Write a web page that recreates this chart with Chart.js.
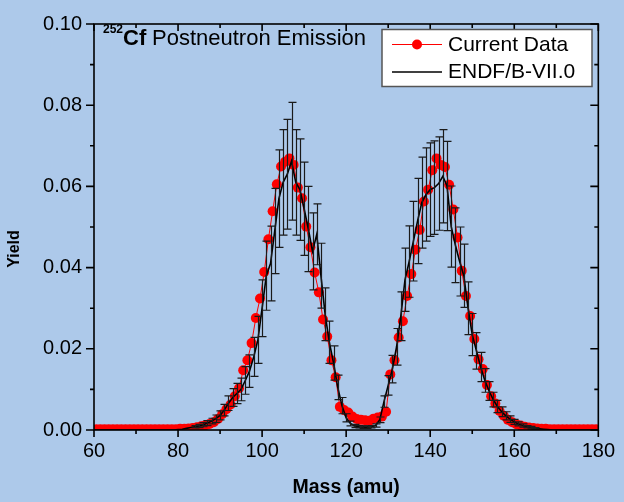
<!DOCTYPE html>
<html>
<head>
<meta charset="utf-8">
<script src="https://cdn.jsdelivr.net/npm/chart.js@4.4.1/dist/chart.umd.min.js"></script>
<style>
  html, body { margin: 0; padding: 0; background: #adc9ea; }
  #wrap { width: 624px; height: 502px; }
</style>
</head>
<body>
<div id="wrap"><canvas id="yieldChart" width="624" height="502"></canvas></div>
<script>
const FONT = '"Liberation Sans", Arial, sans-serif';
const BG = "#adc9ea";

// current data (red dots)
const currentMass = [
  60.5, 61.5, 62.5, 63.5, 64.5, 65.5, 66.5, 67.5, 68.5, 69.5,
  70.5, 71.5, 72.5, 73.5, 74.5, 75.5, 76.5, 77.5, 78.5, 79.5,
  80.5, 81.5, 82.5, 83.5, 84.5, 85.5, 86.5, 87.5, 88.5, 89.5,
  90.5, 91.5, 92.5, 93.5, 94.5, 95.5, 96.5, 97.5, 98.5, 99.5,
  100.5, 101.5, 102.5, 103.5, 104.5, 105.5, 106.5, 107.5, 108.5, 109.5,
  110.5, 111.5, 112.5, 113.5, 114.5, 115.5, 116.5, 117.5, 118.5, 119.5,
  120.5, 121.5, 122.5, 123.5, 124.5, 125.5, 126.5, 127.5, 128.5, 129.5,
  130.5, 131.5, 132.5, 133.5, 134.5, 135.5, 136.5, 137.5, 138.5, 139.5,
  140.5, 141.5, 142.5, 143.5, 144.5, 145.5, 146.5, 147.5, 148.5, 149.5,
  150.5, 151.5, 152.5, 153.5, 154.5, 155.5, 156.5, 157.5, 158.5, 159.5,
  160.5, 161.5, 162.5, 163.5, 164.5, 165.5, 166.5, 167.5, 168.5, 169.5,
  170.5, 171.5, 172.5, 173.5, 174.5, 175.5, 176.5, 177.5, 178.5, 179.5,
];
const currentYield = [
  0.0002, 0.0002, 0.0002, 0.0002, 0.0002, 0.0002, 0.0002, 0.0002, 0.0002, 0.0002,
  0.0002, 0.0002, 0.0002, 0.0002, 0.0002, 0.0002, 0.0002, 0.0002, 0.0002, 0.0002,
  0.0003, 0.0003, 0.0004, 0.0005, 0.0007, 0.0009, 0.0012, 0.0015, 0.0019, 0.0027,
  0.0039, 0.0051, 0.0063, 0.0083, 0.0103, 0.0147, 0.0172, 0.0214, 0.0276, 0.0324,
  0.0389, 0.0470, 0.0539, 0.0605, 0.0649, 0.0661, 0.0669, 0.0653, 0.0597, 0.0571,
  0.0501, 0.0450, 0.0388, 0.0339, 0.0272, 0.0230, 0.0172, 0.0130, 0.0057, 0.0049,
  0.0043, 0.0033, 0.0027, 0.0025, 0.0024, 0.0023, 0.0028, 0.0031, 0.0033, 0.0045,
  0.0137, 0.0172, 0.0228, 0.0268, 0.0330, 0.0384, 0.0444, 0.0493, 0.0563, 0.0592,
  0.0640, 0.0669, 0.0653, 0.0648, 0.0604, 0.0543, 0.0474, 0.0392, 0.0330, 0.0281,
  0.0224, 0.0174, 0.0150, 0.0111, 0.0083, 0.0065, 0.0047, 0.0035, 0.0025, 0.0019,
  0.0014, 0.0011, 0.0008, 0.0006, 0.0005, 0.0004, 0.0003, 0.0003, 0.0002, 0.0002,
  0.0002, 0.0002, 0.0002, 0.0002, 0.0002, 0.0002, 0.0002, 0.0002, 0.0002, 0.0002,
];

// ENDF/B-VII.0 (black line) with its error bars
const endfMass = [
  60, 61, 62, 63, 64, 65, 66, 67, 68, 69,
  70, 71, 72, 73, 74, 75, 76, 77, 78, 79,
  80, 81, 82, 83, 84, 85, 86, 87, 88, 89,
  90, 91, 92, 93, 94, 95, 96, 97, 98, 99,
  100, 101, 102, 103, 104, 105, 106, 107, 108, 109,
  110, 111, 112, 113, 114, 115, 116, 117, 118, 119,
  120, 121, 122, 123, 124, 125, 126, 127, 128, 129,
  130, 131, 132, 133, 134, 135, 136, 137, 138, 139,
  140, 141, 142, 143, 144, 145, 146, 147, 148, 149,
  150, 151, 152, 153, 154, 155, 156, 157, 158, 159,
  160, 161, 162, 163, 164, 165, 166, 167, 168, 169,
  170, 171, 172, 173, 174, 175, 176, 177, 178, 179,
  180,
];
const endfYield = [
  0, 0, 0, 0, 0, 0, 0, 0, 0, 0,
  0, 0, 0, 0, 0, 0, 0, 0, 0, 0,
  0.0001, 0.0002, 0.0004, 0.0006, 0.0008, 0.0010, 0.0013, 0.0017, 0.0022, 0.0028,
  0.0036, 0.0049, 0.0066, 0.0080, 0.0090, 0.0100, 0.0122, 0.0145, 0.0180, 0.0222,
  0.0300, 0.0380, 0.0410, 0.0490, 0.0570, 0.0610, 0.0630, 0.0662, 0.0610, 0.0592,
  0.0545, 0.0495, 0.0440, 0.0482, 0.0380, 0.0285, 0.0216, 0.0165, 0.0105, 0.0060,
  0.0030, 0.0016, 0.0010, 0.0008, 0.0007, 0.0007, 0.0008, 0.0011, 0.0025, 0.0070,
  0.0110, 0.0150, 0.0205, 0.0280, 0.0370, 0.0415, 0.0465, 0.0515, 0.0560, 0.0580,
  0.0592, 0.0597, 0.0607, 0.0625, 0.0601, 0.0501, 0.0455, 0.0415, 0.0380, 0.0300,
  0.0235, 0.0195, 0.0155, 0.0122, 0.0096, 0.0075, 0.0058, 0.0045, 0.0035, 0.0027,
  0.0020, 0.0015, 0.0011, 0.0008, 0.0006, 0.0004, 0.0003, 0.0002, 0.0001, 0,
  0, 0, 0, 0, 0, 0, 0, 0, 0, 0,
  0,
];
const endfError = [
  0, 0, 0, 0, 0, 0, 0, 0, 0, 0,
  0, 0, 0, 0, 0, 0, 0, 0, 0, 0,
  0, 0, 0, 0, 0.0003, 0.0004, 0.0005, 0.0006, 0.0007, 0.0009,
  0.0011, 0.0014, 0.0018, 0.0022, 0.0025, 0.0028, 0.0034, 0.0040, 0.0048, 0.0058,
  0.0070, 0.0085, 0.0092, 0.0105, 0.0120, 0.0130, 0.0135, 0.0145, 0.0130, 0.0125,
  0.0115, 0.0105, 0.0095, 0.0075, 0.0080, 0.0065, 0.0052, 0.0042, 0.0030, 0.0020,
  0.0010, 0.0006, 0.0004, 0.0003, 0.0003, 0.0003, 0.0003, 0.0004, 0.0007, 0.0014,
  0.0024, 0.0034, 0.0045, 0.0060, 0.0078, 0.0088, 0.0098, 0.0105, 0.0112, 0.0115,
  0.0115, 0.0115, 0.0115, 0.0115, 0.0110, 0.0100, 0.0092, 0.0085, 0.0078, 0.0065,
  0.0052, 0.0045, 0.0036, 0.0029, 0.0023, 0.0018, 0.0015, 0.0012, 0.0010, 0.0008,
  0.0006, 0.0005, 0.0004, 0.0003, 0.0003, 0.0002, 0, 0, 0, 0,
  0, 0, 0, 0, 0, 0, 0, 0, 0, 0,
  0,
];

const xTicks = [60, 80, 100, 120, 140, 160, 180];
const xMinorTicks = [70, 90, 110, 130, 150, 170];
const yTicks = [0, 0.02, 0.04, 0.06, 0.08, 0.1];
const yMinorTicks = [0.01, 0.03, 0.05, 0.07, 0.09];

const framePlugin = {
  id: "frame",
  beforeDraw(chart) {
    const ctx = chart.ctx;
    ctx.save();
    ctx.fillStyle = BG;
    ctx.fillRect(0, 0, chart.width, chart.height);
    ctx.restore();
  },
  afterDatasetsDraw(chart) {
    const { ctx, chartArea: a } = chart;
    const x = chart.scales.x;
    const y = chart.scales.y;

    // error bars on the ENDF points
    ctx.save();
    ctx.beginPath();
    ctx.rect(a.left, a.top, a.right - a.left, a.bottom - a.top);
    ctx.clip();
    ctx.strokeStyle = "#1a1a1a";
    ctx.lineWidth = 1.2;
    endfMass.forEach((m, i) => {
      const err = endfError[i];
      if (!err) return;
      const px = Math.round(x.getPixelForValue(m)) + 0.5;
      const top = y.getPixelForValue(endfYield[i] + err);
      const bot = y.getPixelForValue(endfYield[i] - err);
      ctx.beginPath();
      ctx.moveTo(px, top);
      ctx.lineTo(px, bot);
      ctx.moveTo(px - 4, top);
      ctx.lineTo(px + 4, top);
      ctx.moveTo(px - 4, bot);
      ctx.lineTo(px + 4, bot);
      ctx.stroke();
    });
    ctx.restore();

    // box and tick marks
    ctx.save();
    ctx.strokeStyle = "#000";
    ctx.lineWidth = 1.6;
    ctx.strokeRect(a.left, a.top, a.right - a.left, a.bottom - a.top);
    ctx.beginPath();
    const xMark = (v, len) => {
      const px = x.getPixelForValue(v);
      ctx.moveTo(px, a.bottom);
      ctx.lineTo(px, a.bottom + len);
      ctx.moveTo(px, a.top);
      ctx.lineTo(px, a.top + len);
    };
    const yMark = (v, len) => {
      const py = y.getPixelForValue(v);
      ctx.moveTo(a.left, py);
      ctx.lineTo(a.left - len, py);
      ctx.moveTo(a.right, py);
      ctx.lineTo(a.right - len, py);
    };
    xTicks.forEach((v) => xMark(v, 7));
    xMinorTicks.forEach((v) => xMark(v, 4));
    yTicks.forEach((v) => yMark(v, 8));
    yMinorTicks.forEach((v) => yMark(v, 4));
    ctx.stroke();
    ctx.restore();
  },
  afterDraw(chart) {
    const ctx = chart.ctx;
    ctx.save();
    ctx.fillStyle = "#000";
    ctx.textBaseline = "alphabetic";

    // title inside the plot
    ctx.font = `bold 12px ${FONT}`;
    ctx.fillText("252", 103, 33);
    ctx.font = `bold 22px ${FONT}`;
    ctx.fillText("Cf", 123, 45);
    ctx.font = `22px ${FONT}`;
    ctx.fillText("Postneutron Emission", 152, 45);

    // y axis title
    ctx.save();
    ctx.translate(15, 249);
    ctx.rotate(-Math.PI / 2);
    ctx.textAlign = "center";
    ctx.textBaseline = "middle";
    ctx.font = `bold 16px ${FONT}`;
    ctx.fillText("Yield", 0, 0);
    ctx.restore();

    // legend box
    ctx.fillStyle = "#fff";
    ctx.fillRect(382, 29.5, 210, 57);
    ctx.strokeStyle = "#555";
    ctx.lineWidth = 1.5;
    ctx.strokeRect(382, 29.5, 210, 57);

    ctx.strokeStyle = "#ff0000";
    ctx.lineWidth = 1;
    ctx.beginPath();
    ctx.moveTo(392, 44.5);
    ctx.lineTo(442, 44.5);
    ctx.stroke();
    ctx.fillStyle = "#ff0000";
    ctx.beginPath();
    ctx.arc(417, 44.5, 5, 0, Math.PI * 2);
    ctx.fill();

    ctx.strokeStyle = "#000";
    ctx.lineWidth = 1.5;
    ctx.beginPath();
    ctx.moveTo(392, 72);
    ctx.lineTo(442, 72);
    ctx.stroke();

    ctx.fillStyle = "#000";
    ctx.font = `21px ${FONT}`;
    ctx.textBaseline = "middle";
    ctx.fillText("Current Data", 448, 45);
    ctx.fillText("ENDF/B-VII.0", 448, 72.5);
    ctx.restore();
  },
};

new Chart(document.getElementById("yieldChart"), {
  type: "line",
  data: {
    datasets: [
      {
        label: "ENDF/B-VII.0",
        data: endfMass.map((m, i) => ({ x: m, y: endfYield[i] })),
        borderColor: "#000",
        borderWidth: 1.6,
        pointRadius: 0,
        tension: 0,
        clip: 0,
      },
      {
        label: "Current Data",
        data: currentMass.map((m, i) => ({ x: m, y: currentYield[i] })),
        borderColor: "#ff0000",
        borderWidth: 1,
        pointRadius: 5,
        pointBackgroundColor: "#ff0000",
        pointBorderWidth: 0,
        tension: 0,
        clip: 0,
      },
    ],
  },
  options: {
    responsive: false,
    animation: false,
    devicePixelRatio: 1,
    layout: { padding: { top: 15, right: 18, left: 0, bottom: 0 } },
    plugins: {
      legend: { display: false },
      tooltip: { enabled: false },
    },
    scales: {
      x: {
        type: "linear",
        min: 60,
        max: 180,
        afterBuildTicks: (scale) => {
          scale.ticks = xTicks.map((v) => ({ value: v }));
        },
        afterFit: (scale) => {
          scale.height = 72;
        },
        grid: { display: false, drawTicks: false },
        border: { display: false },
        ticks: {
          color: "#000",
          font: { family: FONT, size: 20 },
          padding: 9,
          maxRotation: 0,
          autoSkip: false,
        },
        title: {
          display: true,
          text: "Mass (amu)",
          color: "#000",
          font: { family: FONT, size: 19.5, weight: "bold" },
          padding: { top: 0, bottom: 3 },
        },
      },
      y: {
        type: "linear",
        min: 0,
        max: 0.1,
        afterBuildTicks: (scale) => {
          scale.ticks = yTicks.map((v) => ({ value: v }));
        },
        afterFit: (scale) => {
          scale.width = 94;
        },
        grid: { display: false, drawTicks: false },
        border: { display: false },
        ticks: {
          color: "#000",
          font: { family: FONT, size: 20 },
          padding: 12,
          callback: (v) => Number(v).toFixed(2),
        },
      },
    },
  },
  plugins: [framePlugin],
});
</script>
</body>
</html>
